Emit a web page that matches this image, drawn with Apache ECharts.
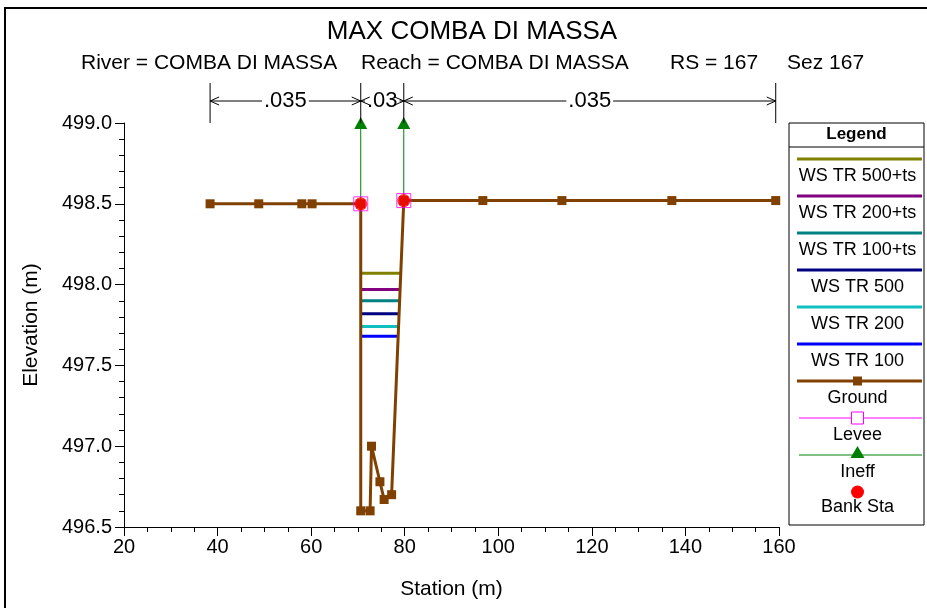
<!DOCTYPE html>
<html>
<head>
<meta charset="utf-8">
<script src="https://cdn.jsdelivr.net/npm/echarts@6/dist/echarts.min.js"></script>
<style>
  html, body { margin: 0; padding: 0; background: #fff; }
  #chart { width: 927px; height: 608px; }
</style>
</head>
<body>
<div id="chart"></div>
<script>
  // cross section data (station m, elevation m)
  var groundSta = [38.4, 48.8, 58.0, 60.2, 70.6, 70.6, 72.6, 72.9, 74.7, 75.6, 77.2, 79.8, 96.7, 113.6, 137.1, 159.3];
  var groundElev = [498.50, 498.50, 498.50, 498.50, 498.50, 496.60, 496.60, 497.00, 496.78, 496.67, 496.70, 498.52, 498.52, 498.52, 498.52, 498.52];
  var bankSta = [70.6, 79.8];
  var bankElev = [498.50, 498.52];
  var ineffElev = [499.0, 499.0];
  var wsNames = ['WS TR 500+ts', 'WS TR 200+ts', 'WS TR 100+ts', 'WS TR 500', 'WS TR 200', 'WS TR 100'];
  var wsElev = [498.07, 497.97, 497.90, 497.82, 497.74, 497.68];
  var wsColors = ['#808000', '#800080', '#008080', '#000080', '#10C0C0', '#0000FF'];
  var nValues = ['.035', '.03', '.035'];
  var legendNames = wsNames.concat(['Ground', 'Levee', 'Ineff', 'Bank Sta']);

  var FONT = '"Liberation Sans", Arial, sans-serif';
  var chart = echarts.init(document.getElementById('chart'));

  // where a water level meets the ground between the banks
  function crossing(e, fromLeft) {
    var i0 = groundSta.indexOf(bankSta[0]);
    var i1 = groundSta.lastIndexOf(bankSta[1]);
    if (fromLeft) {
      for (var i = i0; i < i1; i++) {
        var a = groundElev[i], b = groundElev[i + 1];
        if ((a - e) * (b - e) <= 0 && a !== b) {
          return groundSta[i] + (e - a) / (b - a) * (groundSta[i + 1] - groundSta[i]);
        }
      }
    } else {
      for (var j = i1; j > i0; j--) {
        var c = groundElev[j], d = groundElev[j - 1];
        if ((c - e) * (d - e) <= 0 && c !== d) {
          return groundSta[j] + (e - c) / (d - c) * (groundSta[j - 1] - groundSta[j]);
        }
      }
    }
    return bankSta[fromLeft ? 0 : 1];
  }

  var series = [];
  wsNames.forEach(function (name, k) {
    series.push({
      name: name,
      type: 'line',
      symbol: 'none',
      data: [[crossing(wsElev[k], true), wsElev[k]], [crossing(wsElev[k], false), wsElev[k]]],
      lineStyle: { color: wsColors[k], width: 3 },
      z: 3
    });
  });
  series.push({
    name: 'Ground',
    type: 'line',
    symbol: 'rect',
    symbolSize: 9,
    data: groundSta.map(function (s, i) { return [s, groundElev[i]]; }),
    lineStyle: { color: '#804000', width: 3 },
    itemStyle: { color: '#804000' },
    z: 4
  });
  bankSta.forEach(function (s, i) {
    series.push({
      name: 'Ineff',
      type: 'line',
      data: [
        { value: [s, bankElev[i]], symbol: 'none' },
        { value: [s, ineffElev[i]], symbol: 'triangle', symbolSize: [13, 12] }
      ],
      lineStyle: { color: '#008000', width: 1 },
      itemStyle: { color: '#008000' },
      z: 2
    });
  });
  series.push({
    name: 'Levee',
    type: 'scatter',
    symbol: 'rect',
    symbolSize: 14,
    data: bankSta.map(function (s, i) { return [s, bankElev[i]]; }),
    itemStyle: { color: 'rgba(0,0,0,0)', borderColor: '#FF00FF', borderWidth: 1 },
    z: 5
  });
  series.push({
    name: 'Bank Sta',
    type: 'scatter',
    symbol: 'circle',
    symbolSize: 13,
    data: bankSta.map(function (s, i) { return [s, bankElev[i]]; }),
    itemStyle: { color: '#FF0000' },
    z: 6
  });

  var axisText = { color: '#000', fontSize: 20, fontFamily: FONT };
  var nameText = { color: '#000', fontSize: 21, fontFamily: FONT };

  chart.setOption({
    animation: false,
    backgroundColor: '#fff',
    grid: { left: 124, right: 148, top: 123, bottom: 81 },
    xAxis: {
      type: 'value', min: 20, max: 160, interval: 20,
      name: 'Station (m)', nameLocation: 'middle', nameGap: 52,
      nameTextStyle: nameText,
      axisLine: { show: true, onZero: false, lineStyle: { color: '#000', width: 1 } },
      axisTick: { show: true, length: 9, lineStyle: { color: '#000' } },
      minorTick: { show: true, splitNumber: 4, length: 5, lineStyle: { color: '#000' } },
      axisLabel: Object.assign({ margin: 10 }, axisText),
      splitLine: { show: false }
    },
    yAxis: {
      type: 'value', min: 496.5, max: 499, interval: 0.5,
      name: 'Elevation (m)', nameLocation: 'middle', nameGap: 82,
      nameTextStyle: nameText,
      axisLine: { show: true, onZero: false, lineStyle: { color: '#000', width: 1 } },
      axisTick: { show: true, length: 9, lineStyle: { color: '#000' } },
      minorTick: { show: true, splitNumber: 5, length: 5, lineStyle: { color: '#000' } },
      axisLabel: Object.assign({ margin: 12, formatter: function (v) { return v.toFixed(1); } }, axisText),
      splitLine: { show: false }
    },
    series: series
  });

  // header texts, border, manning n bars and the legend box
  var g = [];
  g.push({ type: 'rect', shape: { x: 5, y: 8, width: 1000, height: 700 }, style: { fill: 'none', stroke: '#000', lineWidth: 2 }, silent: true });
  g.push({ type: 'text', x: 472, y: 32, style: { text: 'MAX COMBA DI MASSA', font: '26px ' + FONT, fill: '#000', align: 'center', verticalAlign: 'middle' } });
  var sub = [['River = COMBA DI MASSA', 81], ['Reach = COMBA DI MASSA', 361], ['RS = 167', 670], ['Sez 167', 787]];
  sub.forEach(function (t) {
    g.push({ type: 'text', x: t[1], y: 63, style: { text: t[0], font: '21px ' + FONT, fill: '#000', align: 'left', verticalAlign: 'middle' } });
  });

  var bounds = [groundSta[0], bankSta[0], bankSta[1], groundSta[groundSta.length - 1]];
  var bx = bounds.map(function (s) { return chart.convertToPixel({ xAxisIndex: 0 }, s); });
  var ay = 101;
  bx.forEach(function (x) {
    g.push({ type: 'line', shape: { x1: x, y1: 83, x2: x, y2: 123 }, style: { stroke: '#000', lineWidth: 1 }, z: 10 });
  });
  for (var k = 0; k < 3; k++) {
    var x1 = bx[k], x2 = bx[k + 1];
    g.push({ type: 'line', shape: { x1: x1, y1: ay, x2: x2, y2: ay }, style: { stroke: '#000', lineWidth: 1 }, z: 10 });
    g.push({ type: 'text', x: (x1 + x2) / 2, y: ay, style: { text: nValues[k], font: '22px ' + FONT, fill: '#000', align: 'center', verticalAlign: 'middle', backgroundColor: '#fff', padding: [0, 2] }, z: 11 });
    g.push({ type: 'polyline', shape: { points: [[x1 + 9, ay - 4], [x1, ay], [x1 + 9, ay + 4]] }, style: { stroke: '#000', fill: 'none', lineWidth: 1 }, z: 12 });
    g.push({ type: 'polyline', shape: { points: [[x2 - 9, ay - 4], [x2, ay], [x2 - 9, ay + 4]] }, style: { stroke: '#000', fill: 'none', lineWidth: 1 }, z: 12 });
  }

  // legend
  var lx = 789, lr = 924, lt = 123, lb = 525;
  g.push({ type: 'rect', shape: { x: lx, y: lt, width: lr - lx, height: lb - lt }, style: { fill: '#fff', stroke: '#000', lineWidth: 1 }, z: 10 });
  g.push({ type: 'line', shape: { x1: lx, y1: 147, x2: lr, y2: 147 }, style: { stroke: '#000', lineWidth: 1 }, z: 11 });
  g.push({ type: 'text', x: (lx + lr) / 2, y: 134, style: { text: 'Legend', font: 'bold 17px ' + FONT, fill: '#000', align: 'center', verticalAlign: 'middle' }, z: 11 });
  var cx = (lx + lr) / 2 + 1;
  legendNames.forEach(function (name, i) {
    var iy = 159 + i * 37.0;
    var ty = iy + 17;
    if (i < wsNames.length) {
      g.push({ type: 'line', shape: { x1: 797, y1: iy, x2: 922, y2: iy }, style: { stroke: wsColors[i], lineWidth: 3 }, z: 11 });
    } else if (name === 'Ground') {
      g.push({ type: 'line', shape: { x1: 797, y1: iy, x2: 922, y2: iy }, style: { stroke: '#804000', lineWidth: 3 }, z: 11 });
      g.push({ type: 'rect', shape: { x: cx - 4.5, y: iy - 4.5, width: 9, height: 9 }, style: { fill: '#804000' }, z: 12 });
    } else if (name === 'Levee') {
      g.push({ type: 'line', shape: { x1: 799, y1: iy, x2: 922, y2: iy }, style: { stroke: '#FF00FF', lineWidth: 1 }, z: 11 });
      g.push({ type: 'rect', shape: { x: cx - 6, y: iy - 6, width: 12, height: 12 }, style: { fill: '#fff', stroke: '#FF00FF', lineWidth: 1 }, z: 12 });
    } else if (name === 'Ineff') {
      g.push({ type: 'line', shape: { x1: 799, y1: iy, x2: 922, y2: iy }, style: { stroke: '#008000', lineWidth: 1 }, z: 11 });
      g.push({ type: 'polygon', shape: { points: [[cx, iy - 9], [cx - 7, iy + 3], [cx + 7, iy + 3]] }, style: { fill: '#008000' }, z: 12 });
    } else {
      g.push({ type: 'circle', shape: { cx: cx, cy: iy, r: 6.5 }, style: { fill: '#FF0000' }, z: 12 });
      ty = iy + 15;
    }
    g.push({ type: 'text', x: cx, y: ty, style: { text: name, font: '18px ' + FONT, fill: '#000', align: 'center', verticalAlign: 'middle' }, z: 12 });
  });

  chart.setOption({ graphic: g });
</script>
</body>
</html>
